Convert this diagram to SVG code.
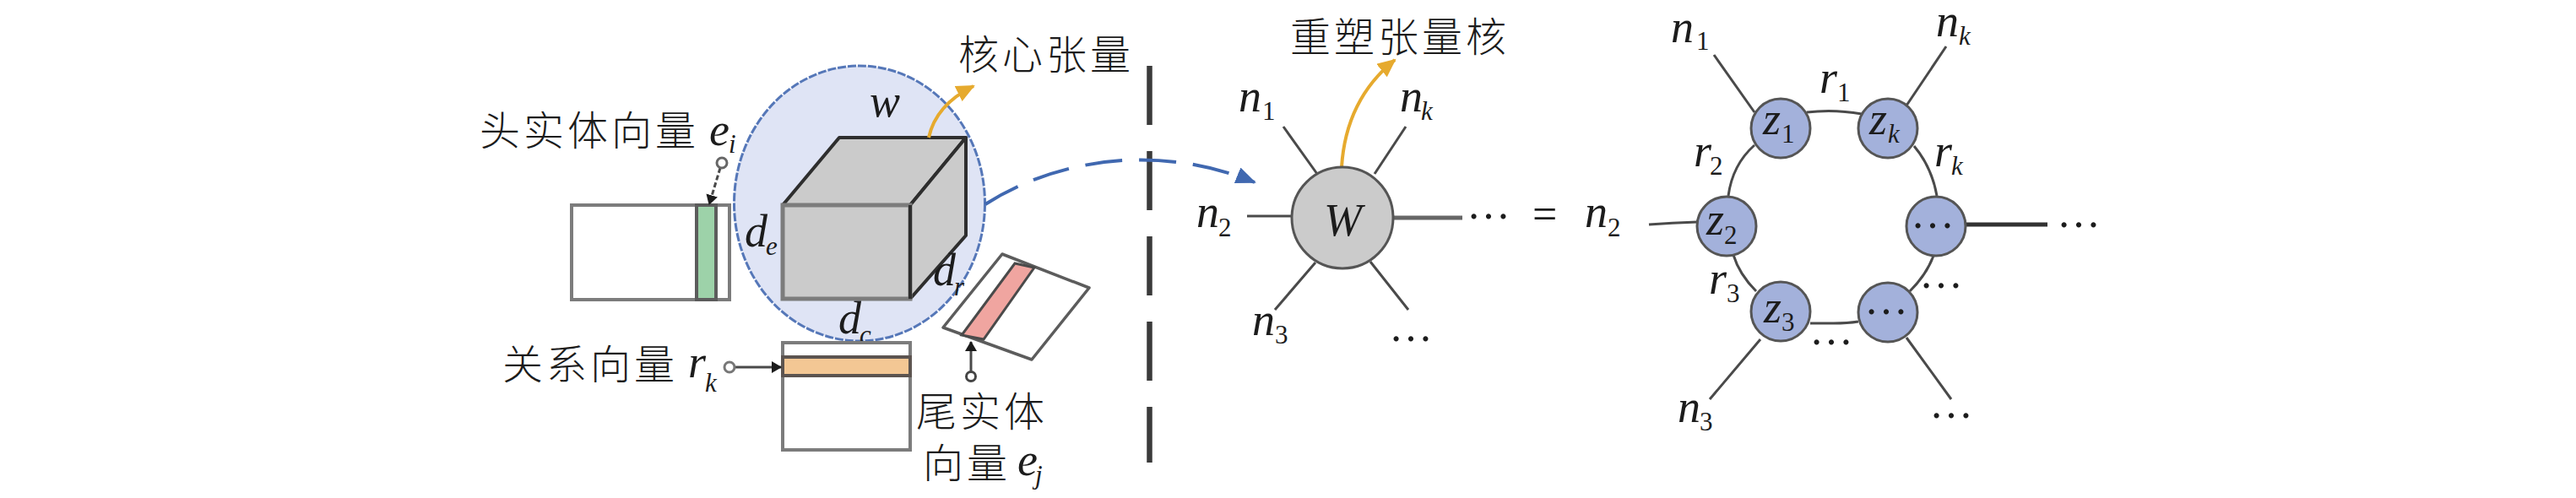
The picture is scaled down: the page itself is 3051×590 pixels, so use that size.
<svg xmlns="http://www.w3.org/2000/svg" width="3051" height="590" viewBox="0 0 3051 590" font-family="Liberation Serif, serif">
<style>
text{fill:#1c1c1c}
.cjk{font-size:48px;letter-spacing:4px;font-weight:300}
.math{font-style:italic;font-size:54px}
.sub{font-size:31px}
.up{font-style:normal}
.dots{font-size:52px}
.l{fill:none;stroke:#4a4a4a;stroke-width:3}
.box{fill:#fff;stroke:#7c7c7c;stroke-width:4}
.z{fill:#a3b1db;stroke:#555;stroke-width:3}
.face{fill:#cbcbcb;stroke:#2e2e2e;stroke-width:4;stroke-linejoin:round}
</style>
<defs>
<marker id="ay" markerUnits="userSpaceOnUse" markerWidth="24" markerHeight="24" refX="20" refY="10" orient="auto"><path d="M0 0L22 10L0 20Z" fill="#e6aa2e"/></marker>
<marker id="ab" markerUnits="userSpaceOnUse" markerWidth="28" markerHeight="24" refX="22" refY="10" orient="auto"><path d="M0 0L24 10L0 20Z" fill="#4068b0"/></marker>
<marker id="ak" markerUnits="userSpaceOnUse" markerWidth="14" markerHeight="16" refX="11" refY="7" orient="auto"><path d="M0 0L12 7L0 14Z" fill="#1c1c1c"/></marker>
</defs>
<rect width="3051" height="590" fill="#fff"/>

<g id="core-tensor">
<ellipse cx="1018" cy="241" rx="148.5" ry="163" fill="#dfe4f5" stroke="#5577b8" stroke-width="3" stroke-dasharray="10 2"/>
<path class="face" d="M927 243L994 163H1144L1078 243Z"/>
<path class="face" d="M1078 243L1144 163V279L1078 354Z"/>
<rect x="927" y="243" width="151" height="111" fill="#cbcbcb" stroke="#7c7c7c" stroke-width="5"/>
<path d="M1078 243V354" stroke="#2e2e2e" stroke-width="4" fill="none"/>
<text class="math" x="1030" y="138">w</text>
<text class="math" x="882" y="292">d<tspan class="sub" x="907" y="302">e</tspan></text>
<text class="math" x="1105" y="338">d<tspan class="sub" x="1130" y="350">r</tspan></text>
<text class="math" x="993" y="395">d<tspan class="sub" x="1018" y="407">c</tspan></text>
</g>

<g id="head-entity">
<rect class="box" x="677" y="243" width="187" height="112"/>
<rect x="825" y="243" width="23" height="112" fill="#9dd2a9" stroke="#5c5c5c" stroke-width="4"/>
<text class="cjk" x="568" y="172" font-family="Noto Sans CJK SC, sans-serif">头实体向量</text>
<text class="math" x="840" y="172">e<tspan class="sub" x="863" y="181">i</tspan></text>
</g>

<g id="relation">
<rect class="box" x="927" y="406" width="151" height="127"/>
<rect x="927" y="423" width="151" height="22" fill="#f3c794" stroke="#5c5450" stroke-width="4"/>
<text class="cjk" x="595" y="449" font-family="Noto Sans CJK SC, sans-serif">关系向量</text>
<text class="math" x="815" y="447">r<tspan class="sub" x="835" y="464">k</tspan></text>
</g>

<g id="tail-entity">
<path d="M1187 301L1290 341L1222 426L1117 388Z" fill="#fff" stroke="#5c5c5c" stroke-width="3.5" stroke-linejoin="round"/>
<path d="M1202 312L1225 317L1165 402L1139 397Z" fill="#f0a5a0" stroke="#4a4a4a" stroke-width="3"/>
<text class="cjk" x="1085" y="505" font-family="Noto Sans CJK SC, sans-serif">尾实体</text>
<text class="cjk" x="1093" y="566" font-family="Noto Sans CJK SC, sans-serif">向量</text>
<text class="math" x="1205" y="563">e<tspan class="sub" x="1226" y="573">j</tspan></text>
</g>

<g id="separator"><path d="M1361.5 78V548" stroke="#3a3a3a" stroke-width="6.5" stroke-dasharray="70 31" fill="none"/></g>

<g id="core-label"><text class="cjk" x="1135" y="82" font-family="Noto Sans CJK SC, sans-serif">核心张量</text></g>
<g id="reshaped-label"><text class="cjk" x="1528" y="61" font-family="Noto Sans CJK SC, sans-serif">重塑张量核</text></g>

<g id="connectors">
<path d="M864 435H925" class="l" marker-end="url(#ak)"/>
<path d="M853 199L840 242" class="l" stroke-dasharray="6 3" marker-end="url(#ak)"/>
<path d="M1150 441V405" class="l" marker-end="url(#ak)"/>
<path d="M1100 163C1106 135 1125 116 1153 102" fill="none" stroke="#e6aa2e" stroke-width="4" marker-end="url(#ay)"/>
<path d="M1589 198C1592 150 1610 105 1652 71" fill="none" stroke="#e6aa2e" stroke-width="4" marker-end="url(#ay)"/>
<path d="M1167 242C1240 195 1360 165 1486 216" fill="none" stroke="#4068b0" stroke-width="4" stroke-dasharray="44 20" marker-end="url(#ab)"/>
<path class="l" d="M1520 150L1560 206M1665 150L1628 206M1477 256H1530M1510 367L1558 311M1668 367L1623 310"/>
<path d="M1650 258H1732" class="l" style="stroke:#666;stroke-width:5"/>
<path class="l" d="M2030 65L2078 133M2305 55L2258 125M2140 133Q2172 129 2205 135M2078 172Q2052 195 2047 232M2267 173Q2288 198 2294 232M1953 266Q1980 264 2010 263M2053 302Q2060 325 2080 345M2290 303Q2282 325 2262 345M2144 383H2172Q2188 383 2201 381M2085 402L2025 473M2258 400L2311 473"/>
<path d="M2328 266H2425" class="l" style="stroke:#333;stroke-width:5"/>
</g>

<g id="endpoint-markers">
<circle cx="855" cy="193" r="6" fill="#fff" stroke="#666" stroke-width="3"/>
<circle cx="864" cy="435" r="6" fill="#fff" stroke="#777" stroke-width="3"/>
<circle cx="1150" cy="446" r="5.5" fill="#fff" stroke="#444" stroke-width="3"/>
</g>

<g id="W"><circle class="z" style="fill:#cbcbcb" cx="1590" cy="258" r="60"/><text class="math" x="1568" y="279">W</text></g>

<g id="left-labels">
<text class="math" x="1467" y="132">n<tspan class="sub up" x="1495" y="142">1</tspan></text>
<text class="math" x="1658" y="132">n<tspan class="sub" x="1683" y="142">k</tspan></text>
<text class="math" x="1417" y="269">n<tspan class="sub up" x="1443" y="280">2</tspan></text>
<text class="math" x="1483" y="397">n<tspan class="sub up" x="1510" y="407">3</tspan></text>
<text class="dots" x="1737" y="259">…</text>
<text class="dots" x="1645" y="404">…</text>
<text class="dots" x="1815" y="271">=</text>
</g>

<g id="z1"><circle class="z" cx="2109" cy="152" r="35"/><text class="math" x="2088" y="159">z<tspan class="sub up" x="2110" y="169">1</tspan></text></g>
<g id="zk"><circle class="z" cx="2236" cy="152" r="35"/><text class="math" x="2214" y="159">z<tspan class="sub" x="2236" y="169">k</tspan></text></g>
<g id="z2"><circle class="z" cx="2045" cy="268" r="35"/><text class="math" x="2021" y="278">z<tspan class="sub up" x="2042" y="289">2</tspan></text></g>
<g id="z-right"><circle class="z" cx="2293" cy="268" r="35"/><text class="dots" x="2263" y="270">…</text></g>
<g id="z3"><circle class="z" cx="2109" cy="369" r="35"/><text class="math" x="2089" y="382">z<tspan class="sub up" x="2110" y="392">3</tspan></text></g>
<g id="z-bottom"><circle class="z" cx="2236" cy="370" r="35"/><text class="dots" x="2208" y="372">…</text></g>

<g id="right-labels">
<text class="math" x="1979" y="50">n<tspan class="sub up" x="2009" y="59">1</tspan></text>
<text class="math" x="2293" y="43">n<tspan class="sub" x="2320" y="53">k</tspan></text>
<text class="math" x="2155" y="110">r<tspan class="sub up" x="2176" y="120">1</tspan></text>
<text class="math" x="2006" y="197">r<tspan class="sub up" x="2025" y="207">2</tspan></text>
<text class="math" x="2291" y="197">r<tspan class="sub" x="2311" y="207">k</tspan></text>
<text class="math" x="1877" y="269">n<tspan class="sub up" x="1904" y="280">2</tspan></text>
<text class="math" x="2024" y="348">r<tspan class="sub up" x="2045" y="358">3</tspan></text>
<text class="math" x="1987" y="500">n<tspan class="sub up" x="2013" y="510">3</tspan></text>
<text class="dots" x="2436" y="269">…</text>
<text class="dots" x="2273" y="341">…</text>
<text class="dots" x="2143" y="408">…</text>
<text class="dots" x="2285" y="495">…</text>
</g>
</svg>
